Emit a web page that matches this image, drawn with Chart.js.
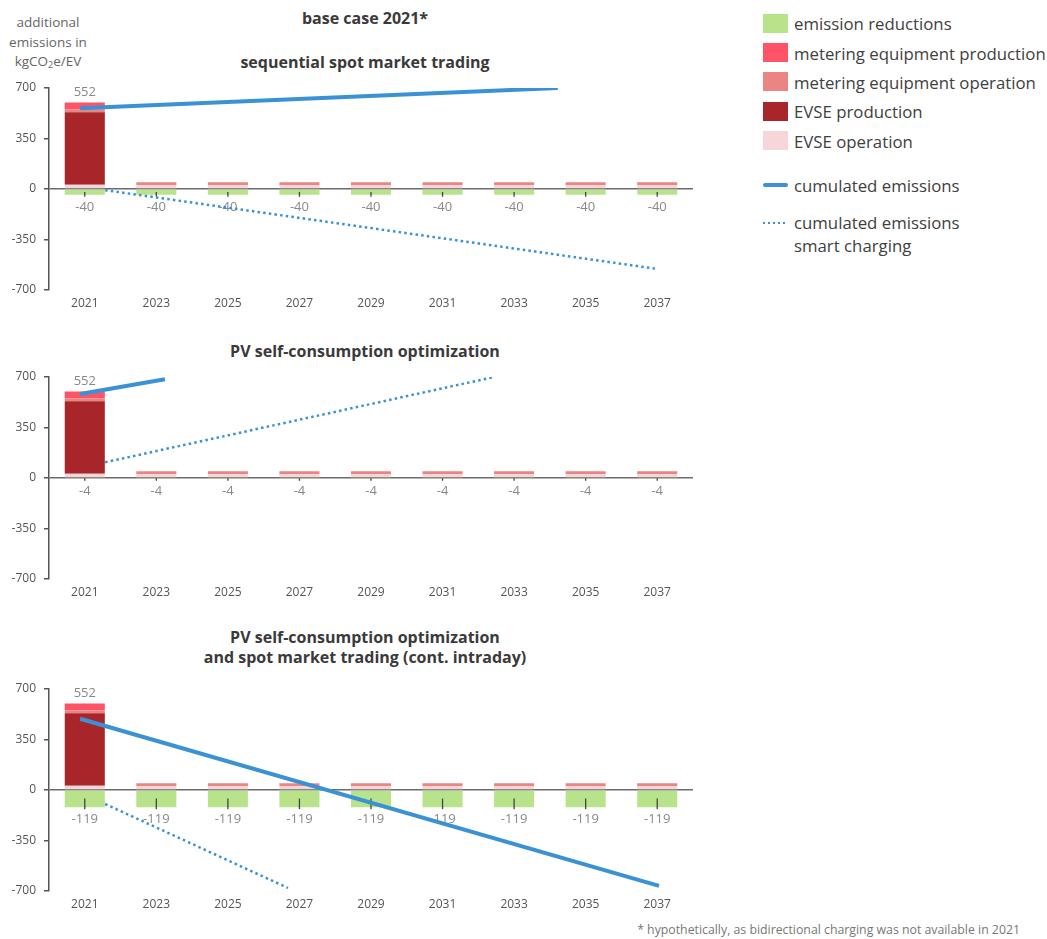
<!DOCTYPE html>
<html>
<head>
<meta charset="utf-8">
<script src="https://cdn.jsdelivr.net/npm/chart.js@4.4.1/dist/chart.umd.min.js"></script>
<style>
  html, body { margin: 0; padding: 0; background: #ffffff; }
  body { font-family: "Open Sans", "Noto Sans", sans-serif; }
  #page { position: relative; width: 1047px; height: 939px; overflow: hidden; }
  canvas { position: absolute; left: 0; }
  .c { position: absolute; transform: translate(-50%, -50%); white-space: nowrap; text-align: center; }
  .title { font-weight: 700; font-size: 16px; color: #3a3a3a; line-height: 20px; }
  .ytitle { font-size: 13.5px; color: #666; line-height: 19.5px; }
  .ytitle sub { font-size: 9px; vertical-align: -2px; line-height: 0; }
  .legend { position: absolute; left: 763px; top: 0; width: 284px; height: 260px; font-size: 16.8px; color: #404040; }
  .sw { position: absolute; left: 0; width: 25px; height: 19px; }
  .lt { position: absolute; left: 31px; transform: translateY(-50%); line-height: 23px; white-space: nowrap; }
  .foot { position: absolute; right: 27px; top: 929px; transform: translateY(-50%); font-size: 12.3px; color: #777; white-space: nowrap; }
</style>
</head>
<body>
<div id="page">
  <div class="c title" style="left:365px; top:18px;">base case 2021*</div>
  <div class="c ytitle" style="left:48px; top:42px;">additional<br>emissions in<br>kgCO<sub>2</sub>e/EV</div>

  <div class="c title" style="left:365px; top:62px;">sequential spot market trading</div>
  <div class="c title" style="left:365px; top:351px;">PV self-consumption optimization</div>
  <div class="c title" style="left:365px; top:647px;">PV self-consumption optimization<br>and spot market trading (cont. intraday)</div>

  <canvas id="chartSpot" width="700" height="248" style="top:68px;"></canvas>
  <canvas id="chartPV" width="700" height="248" style="top:357px;"></canvas>
  <canvas id="chartPVSpot" width="700" height="248" style="top:669px;"></canvas>

  <div class="legend" id="legend"></div>
  <div class="foot">* hypothetically, as bidirectional charging was not available in 2021</div>
</div>

<script>
// Categories (every second year) and y ticks
const years = ['2021', '2023', '2025', '2027', '2029', '2031', '2033', '2035', '2037'];
const yTicks = [-700, -350, 0, 350, 700];

// Emission components per bar, kgCO2e per EV
const evseOperation      = [30, 28, 28, 28, 28, 28, 28, 28, 28];
const evseProduction     = [502, 0, 0, 0, 0, 0, 0, 0, 0];
const meteringOperation  = [20, 18, 18, 18, 18, 18, 18, 18, 18];
const meteringProduction = [48, 0, 0, 0, 0, 0, 0, 0, 0];

// Emission reductions for each use case
const reductionsSpot   = [-40, -40, -40, -40, -40, -40, -40, -40, -40];
const reductionsPV     = [-4, -4, -4, -4, -4, -4, -4, -4, -4];
const reductionsPVSpot = [-119, -119, -119, -119, -119, -119, -119, -119, -119];

// Cumulated emissions (year position, value)
const cumSpotYears      = [2020.87, 2034.22];
const cumSpotValues     = [559, 700];
const smartSpotYears    = [2021.57, 2036.97];
const smartSpotValues   = [-8, -553];

const cumPVYears        = [2020.87, 2023.24];
const cumPVValues       = [582, 685];
const smartPVYears      = [2021.57, 2032.44];
const smartPVValues     = [109, 700];

const cumPVSpotYears    = [2020.87, 2037.05];
const cumPVSpotValues   = [494, -665];
const smartPVSpotYears  = [2021.57, 2026.68];
const smartPVSpotValues = [-97, -679];

const colors = {
  reductions: '#b9e38b',
  meteringProduction: '#ff5468',
  meteringOperation: '#ea8584',
  evseProduction: '#a8262a',
  evseOperation: '#f6d6d8',
  line: '#3a92d5'
};

const FONT = '"Open Sans", "Noto Sans", sans-serif';

// Legend (HTML)
const legendItems = [
  ['emission reductions', colors.reductions],
  ['metering equipment production', colors.meteringProduction],
  ['metering equipment operation', colors.meteringOperation],
  ['EVSE production', colors.evseProduction],
  ['EVSE operation', colors.evseOperation]
];
const legend = document.getElementById('legend');
legendItems.forEach(([text, color], i) => {
  const cy = 23.3 + i * 29.3;
  const sw = document.createElement('div');
  sw.className = 'sw';
  sw.style.top = (cy - 9.5) + 'px';
  sw.style.background = color;
  legend.appendChild(sw);
  const t = document.createElement('div');
  t.className = 'lt';
  t.style.top = cy + 'px';
  t.textContent = text;
  legend.appendChild(t);
});
(function () {
  const solid = document.createElement('div');
  solid.style.cssText = 'position:absolute;left:0;top:183px;width:25px;height:4px;border-radius:2px;background:' + colors.line;
  legend.appendChild(solid);
  const t1 = document.createElement('div');
  t1.className = 'lt'; t1.style.top = '185px'; t1.textContent = 'cumulated emissions';
  legend.appendChild(t1);
  const dots = document.createElement('div');
  dots.style.cssText = 'position:absolute;left:0;top:221.5px;width:24px;height:2px;background:repeating-linear-gradient(90deg,' + colors.line + ' 0 2px, transparent 2px 5px)';
  legend.appendChild(dots);
  const t2 = document.createElement('div');
  t2.className = 'lt'; t2.style.top = '233.5px'; t2.innerHTML = 'cumulated emissions<br>smart charging';
  legend.appendChild(t2);
})();

// Value labels and small markers drawn right after the reduction bars
const barNotes = {
  id: 'barNotes',
  afterDatasetDraw(chart, args) {
    if (args.index !== 0) return;
    const ctx = chart.ctx;
    const yScale = chart.scales.y;
    const red = chart.data.datasets[0].data;
    const meta = chart.getDatasetMeta(0);
    ctx.save();
    ctx.font = '13px ' + FONT;
    ctx.textAlign = 'center';
    ctx.textBaseline = 'middle';
    meta.data.forEach((bar, i) => {
      const v = red[i];
      const bottom = Math.max(bar.y, bar.base);
      ctx.strokeStyle = '#444';
      ctx.lineWidth = 1.3;
      ctx.beginPath();
      ctx.moveTo(bar.x, yScale.getPixelForValue(v / 2));
      ctx.lineTo(bar.x, bottom + 2);
      ctx.stroke();
      ctx.fillStyle = '#888';
      ctx.fillText(String(v), bar.x, bottom + 12.5);
    });
    // initial emissions label above the first bar
    const first = evseOperation[0] + evseProduction[0] + meteringOperation[0];
    const topBar = chart.getDatasetMeta(4).data[0];
    ctx.fillStyle = '#888';
    ctx.fillText(String(first), topBar.x, topBar.y - 10);
    ctx.restore();
  }
};

function pts(xs, ys) { return xs.map((x, i) => ({ x: x, y: ys[i] })); }

function makeChart(id, reductions, cumYears, cumValues, smartYears, smartValues) {
  const bar = (label, data, color) => ({ label, data, backgroundColor: color, order: 1, stack: 'parts', grouped: false });
  return new Chart(document.getElementById(id), {
    type: 'bar',
    data: {
      labels: years,
      datasets: [
        bar('emission reductions', reductions, colors.reductions),
        bar('EVSE operation', evseOperation, colors.evseOperation),
        bar('EVSE production', evseProduction, colors.evseProduction),
        bar('metering equipment operation', meteringOperation, colors.meteringOperation),
        bar('metering equipment production', meteringProduction, colors.meteringProduction),
        { type: 'line', label: 'cumulated emissions', data: pts(cumYears, cumValues), xAxisID: 'xl', stack: 'cum',
          borderColor: colors.line, borderWidth: 4, pointRadius: 0, fill: false, order: 0, borderCapStyle: 'butt' },
        { type: 'line', label: 'cumulated emissions smart charging', data: pts(smartYears, smartValues), xAxisID: 'xl', stack: 'smart',
          borderColor: colors.line, borderWidth: 2.5, borderDash: [2.5, 3.2], pointRadius: 0, fill: false, order: 0 }
      ]
    },
    options: {
      responsive: false,
      animation: false,
      events: [],
      layout: { padding: { top: 20, right: 7, left: 0, bottom: 0 } },
      plugins: { legend: { display: false }, tooltip: { enabled: false } },
      datasets: { bar: { barPercentage: 0.7, categoryPercentage: 0.8 } },
      scales: {
        x: {
          stacked: true, offset: true,
          grid: { display: false, drawTicks: false },
          border: { display: false },
          ticks: { color: '#555', font: { size: 12, family: FONT }, padding: 6, maxRotation: 0, autoSkip: false },
          afterFit: s => { s.height = 26; }
        },
        xl: { type: 'linear', display: false, offset: false, min: 2020, max: 2038, grid: { offset: false } },
        y: {
          stacked: true, min: -700, max: 700, z: 1,
          afterBuildTicks: s => { s.ticks = yTicks.map(v => ({ value: v })); },
          grid: {
            color: c => (c.tick && c.tick.value === 0) ? '#6b6b6b' : 'rgba(0,0,0,0)',
            lineWidth: 1.5, drawTicks: true, tickLength: 5, tickColor: '#555'
          },
          border: { color: '#555', width: 1.5 },
          ticks: { color: '#555', font: { size: 12, family: FONT }, padding: 8 },
          afterFit: s => { s.width = 49; }
        }
      }
    },
    plugins: [barNotes]
  });
}

makeChart('chartSpot', reductionsSpot, cumSpotYears, cumSpotValues, smartSpotYears, smartSpotValues);
makeChart('chartPV', reductionsPV, cumPVYears, cumPVValues, smartPVYears, smartPVValues);
makeChart('chartPVSpot', reductionsPVSpot, cumPVSpotYears, cumPVSpotValues, smartPVSpotYears, smartPVSpotValues);
</script>
</body>
</html>
